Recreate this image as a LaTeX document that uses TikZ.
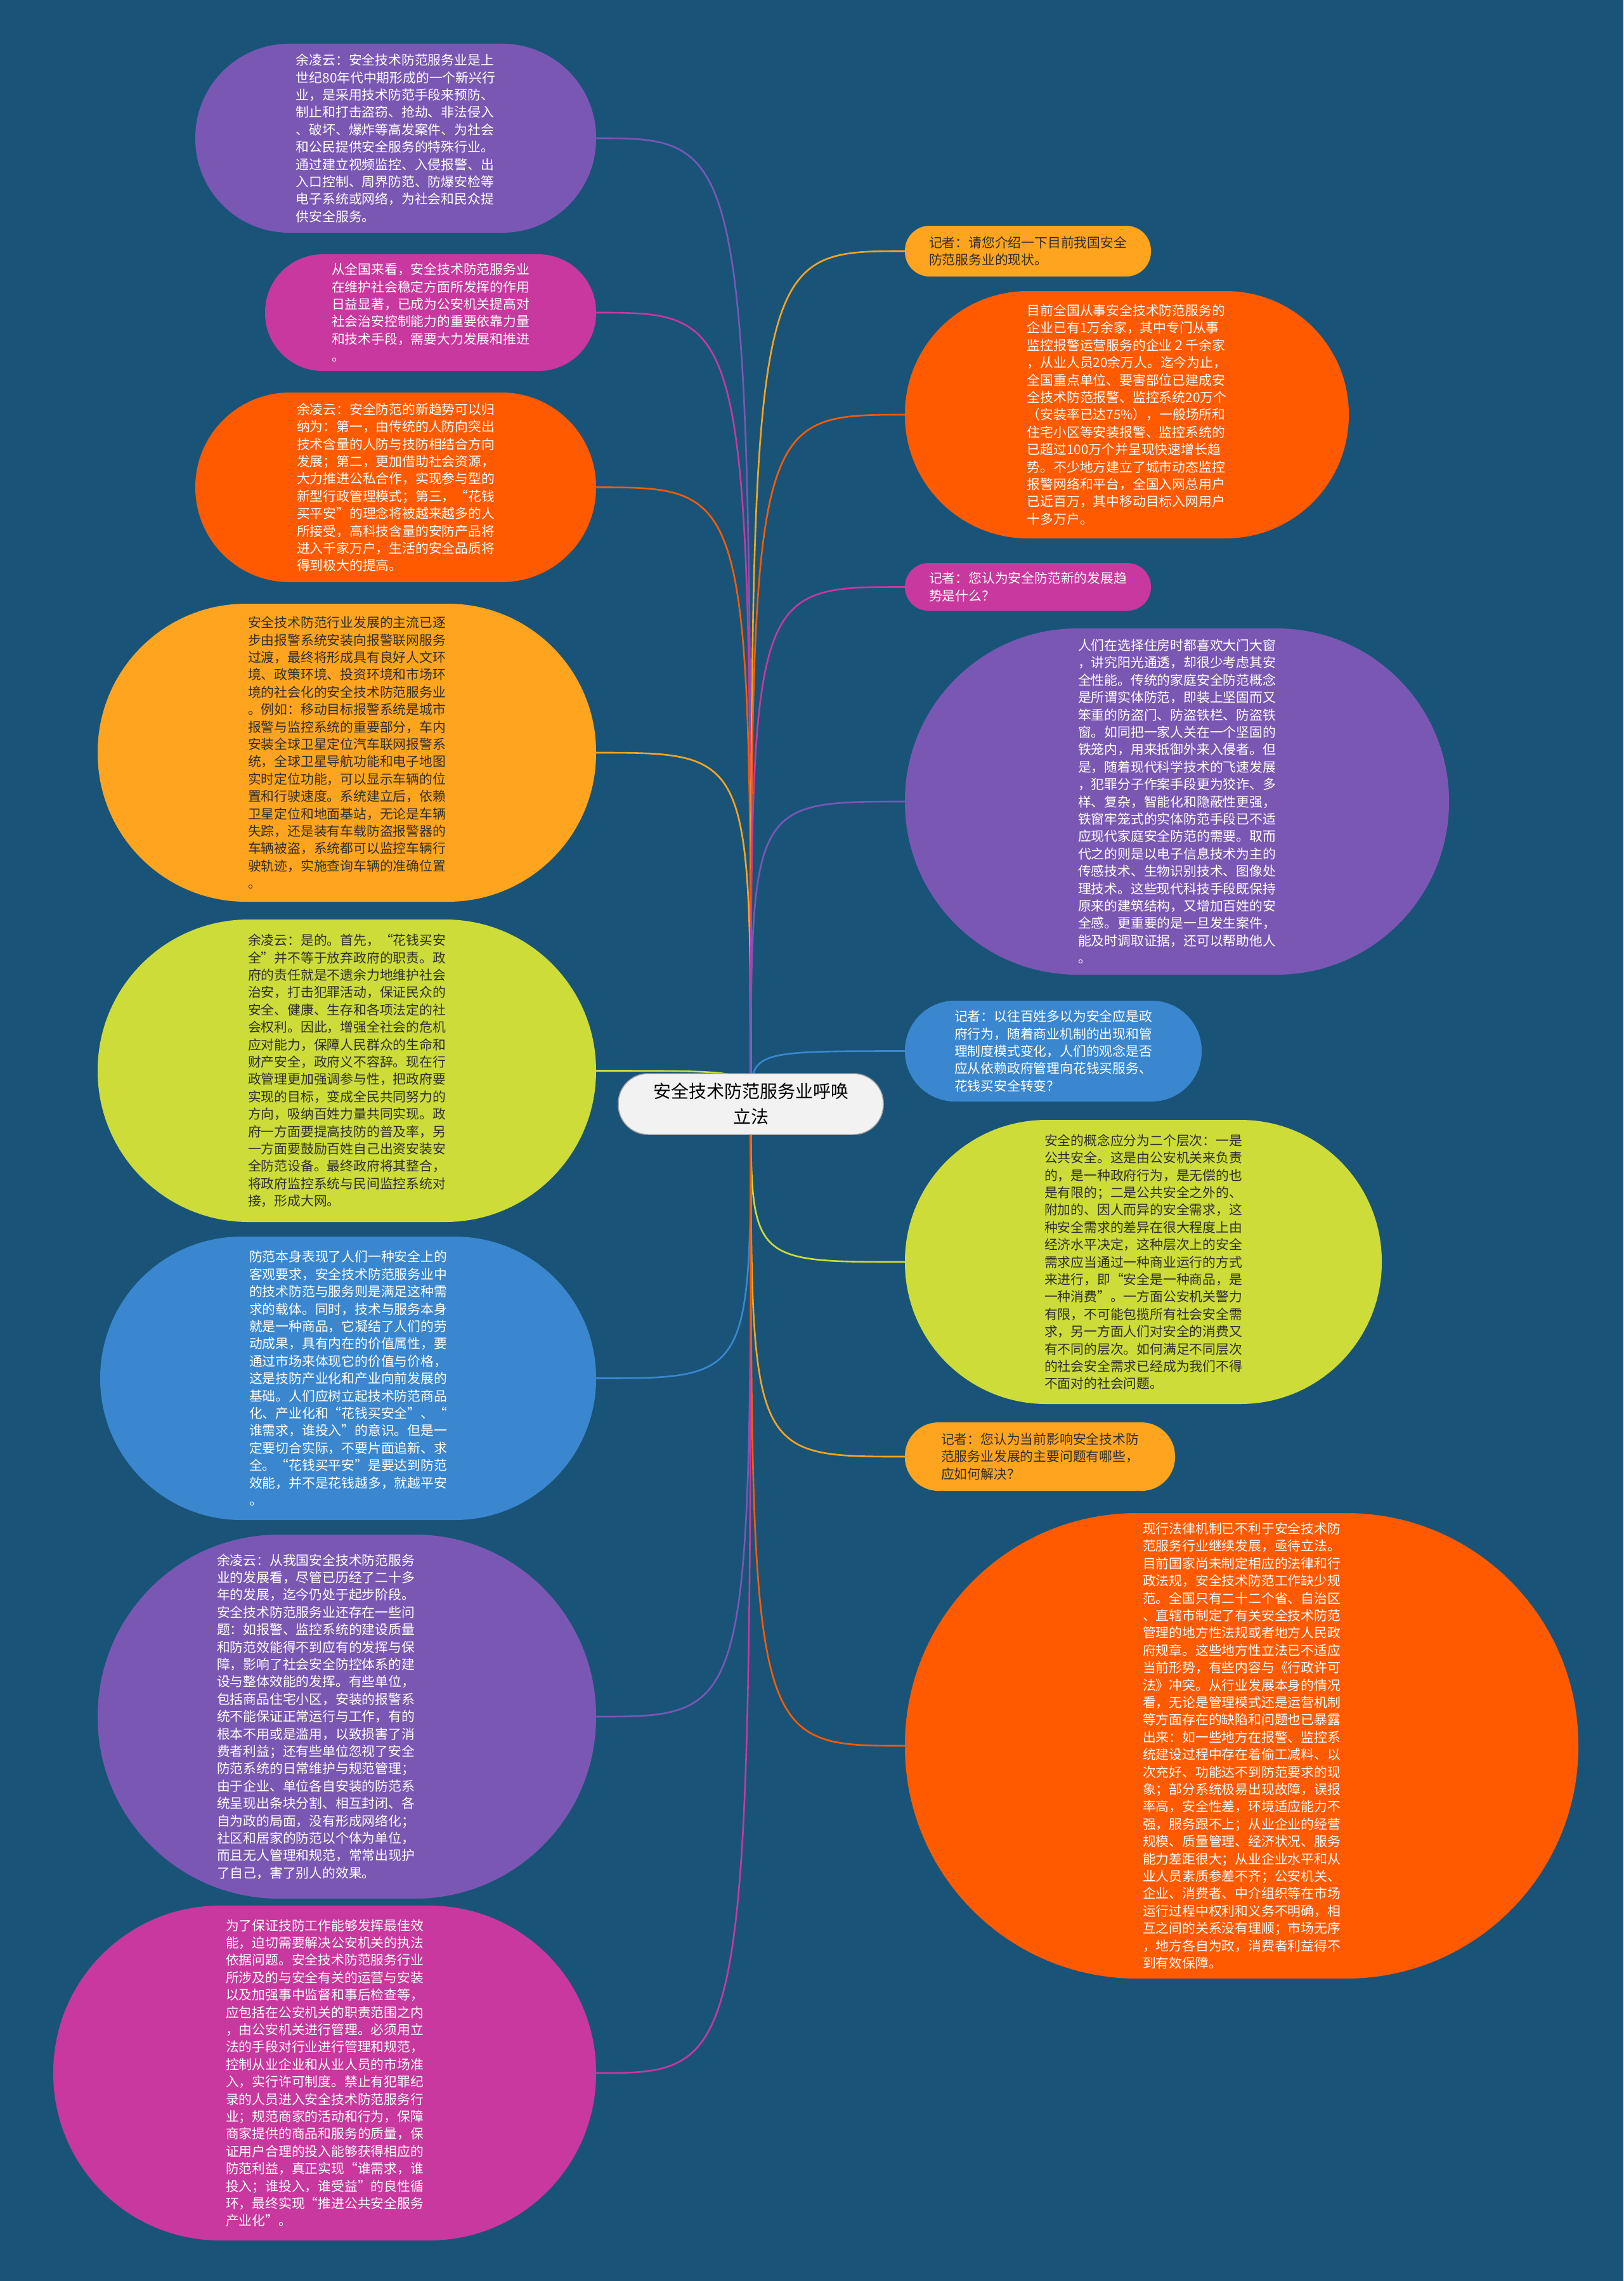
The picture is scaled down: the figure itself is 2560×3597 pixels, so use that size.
\documentclass[tikz,border=0pt]{standalone}
\usepackage{fontspec}
\setmainfont{Noto Sans CJK SC}
\usepackage{tikz}
\usetikzlibrary{calc}

\definecolor{bgblue}{HTML}{195478}
\definecolor{cpurple}{HTML}{7B57B4}
\definecolor{cmagenta}{HTML}{C8389F}
\definecolor{corange}{HTML}{FF5A00}
\definecolor{camber}{HTML}{FFA41E}
\definecolor{clime}{HTML}{CDDC39}
\definecolor{cblue}{HTML}{3A87D0}
\definecolor{rootfill}{HTML}{F2F2F2}
\definecolor{rootline}{HTML}{A6A6A6}
\definecolor{txtdark}{HTML}{2E2E2E}

\begin{document}
\begin{tikzpicture}[
    x=1pt, y=-1pt,
    font=\fontsize{20.8}{27.4}\selectfont,
    bubble/.style={inner sep=0pt, align=left},
    lighttext/.style={text=white},
    darktext/.style={text=txtdark},
    link/.style={line width=2.6pt},
    rootbox/.style={fill=rootfill, draw=rootline, line width=1.5pt, align=center, inner sep=0pt,
        minimum width=418pt, minimum height=96pt, rounded corners=47pt,
        text=black, font=\fontsize{28}{40}\selectfont}
]
\fill[bgblue] (0,0) rectangle (2560,3597);

% left branch
\node[bubble, fill=cpurple, lighttext, minimum width=632pt, minimum height=298pt, rounded corners=148pt] (n1) at (624,218) {余凌云：安全技术防范服务业是上\\世纪80年代中期形成的一个新兴行\\业，是采用技术防范手段来预防、\\制止和打击盗窃、抢劫、非法侵入\\、破坏、爆炸等高发案件、为社会\\和公民提供安全服务的特殊行业。\\通过建立视频监控、入侵报警、出\\入口控制、周界防范、防爆安检等\\电子系统或网络，为社会和民众提\\供安全服务。};
\node[bubble, fill=cmagenta, lighttext, minimum width=522pt, minimum height=184pt, rounded corners=91pt] (n2) at (679,493) {从全国来看，安全技术防范服务业\\在维护社会稳定方面所发挥的作用\\日益显著，已成为公安机关提高对\\社会治安控制能力的重要依靠力量\\和技术手段，需要大力发展和推进\\。};
\node[bubble, fill=corange, lighttext, minimum width=632pt, minimum height=299pt, rounded corners=149pt] (n3) at (624,768.5) {余凌云：安全防范的新趋势可以归\\纳为：第一，由传统的人防向突出\\技术含量的人防与技防相结合方向\\发展；第二，更加借助社会资源，\\大力推进公私合作，实现参与型的\\新型行政管理模式；第三，“花钱\\买平安”的理念将被越来越多的人\\所接受，高科技含量的安防产品将\\进入千家万户，生活的安全品质将\\得到极大的提高。};
\node[bubble, fill=camber, darktext, minimum width=786pt, minimum height=470pt, rounded corners=234pt] (n4) at (547,1187) {安全技术防范行业发展的主流已逐\\步由报警系统安装向报警联网服务\\过渡，最终将形成具有良好人文环\\境、政策环境、投资环境和市场环\\境的社会化的安全技术防范服务业\\。例如：移动目标报警系统是城市\\报警与监控系统的重要部分，车内\\安装全球卫星定位汽车联网报警系\\统，全球卫星导航功能和电子地图\\实时定位功能，可以显示车辆的位\\置和行驶速度。系统建立后，依赖\\卫星定位和地面基站，无论是车辆\\失踪，还是装有车载防盗报警器的\\车辆被盗，系统都可以监控车辆行\\驶轨迹，实施查询车辆的准确位置\\。};
\node[bubble, fill=clime, darktext, minimum width=786pt, minimum height=477pt, rounded corners=238pt] (n5) at (547,1688.5) {余凌云：是的。首先，“花钱买安\\全”并不等于放弃政府的职责。政\\府的责任就是不遗余力地维护社会\\治安，打击犯罪活动，保证民众的\\安全、健康、生存和各项法定的社\\会权利。因此，增强全社会的危机\\应对能力，保障人民群众的生命和\\财产安全，政府义不容辞。现在行\\政管理更加强调参与性，把政府要\\实现的目标，变成全民共同努力的\\方向，吸纳百姓力量共同实现。政\\府一方面要提高技防的普及率，另\\一方面要鼓励百姓自己出资安装安\\全防范设备。最终政府将其整合，\\将政府监控系统与民间监控系统对\\接，形成大网。};
\node[bubble, fill=cblue, lighttext, minimum width=782pt, minimum height=447pt, rounded corners=223pt] (n6) at (549,2173.5) {防范本身表现了人们一种安全上的\\客观要求，安全技术防范服务业中\\的技术防范与服务则是满足这种需\\求的载体。同时，技术与服务本身\\就是一种商品，它凝结了人们的劳\\动成果，具有内在的价值属性，要\\通过市场来体现它的价值与价格，\\这是技防产业化和产业向前发展的\\基础。人们应树立起技术防范商品\\化、产业化和“花钱买安全”、“\\谁需求，谁投入”的意识。但是一\\定要切合实际，不要片面追新、求\\全。“花钱买平安”是要达到防范\\效能，并不是花钱越多，就越平安\\。};
\node[bubble, fill=cpurple, minimum width=786pt, minimum height=574pt, rounded corners=286pt] (n7) at (547,2707) {};
\node[bubble, lighttext] (n7txt) at (498,2707) {余凌云：从我国安全技术防范服务\\业的发展看，尽管已历经了二十多\\年的发展，迄今仍处于起步阶段。\\安全技术防范服务业还存在一些问\\题：如报警、监控系统的建设质量\\和防范效能得不到应有的发挥与保\\障，影响了社会安全防控体系的建\\设与整体效能的发挥。有些单位，\\包括商品住宅小区，安装的报警系\\统不能保证正常运行与工作，有的\\根本不用或是滥用，以致损害了消\\费者利益；还有些单位忽视了安全\\防范系统的日常维护与规范管理；\\由于企业、单位各自安装的防范系\\统呈现出条块分割、相互封闭、各\\自为政的局面，没有形成网络化；\\社区和居家的防范以个体为单位，\\而且无人管理和规范，常常出现护\\了自己，害了别人的效果。};
\node[bubble, fill=cmagenta, lighttext, minimum width=856pt, minimum height=528pt, rounded corners=263pt] (n8) at (512,3269) {为了保证技防工作能够发挥最佳效\\能，迫切需要解决公安机关的执法\\依据问题。安全技术防范服务行业\\所涉及的与安全有关的运营与安装\\以及加强事中监督和事后检查等，\\应包括在公安机关的职责范围之内\\，由公安机关进行管理。必须用立\\法的手段对行业进行管理和规范，\\控制从业企业和从业人员的市场准\\入，实行许可制度。禁止有犯罪纪\\录的人员进入安全技术防范服务行\\业；规范商家的活动和行为，保障\\商家提供的商品和服务的质量，保\\证用户合理的投入能够获得相应的\\防范利益，真正实现“谁需求，谁\\投入；谁投入，谁受益”的良性循\\环，最终实现“推进公共安全服务\\产业化”。};

% right branch
\node[bubble, fill=camber, darktext, minimum width=388pt, minimum height=80pt, rounded corners=39pt] (n9) at (1621,396) {记者：请您介绍一下目前我国安全\\防范服务业的现状。};
\node[bubble, fill=corange, lighttext, minimum width=700pt, minimum height=390pt, rounded corners=194pt] (n10) at (1777,654) {目前全国从事安全技术防范服务的\\企业已有1万余家，其中专门从事\\监控报警运营服务的企业２千余家\\，从业人员20余万人。迄今为止，\\全国重点单位、要害部位已建成安\\全技术防范报警、监控系统20万个\\（安装率已达75\%），一般场所和\\住宅小区等安装报警、监控系统的\\已超过100万个并呈现快速增长趋\\势。不少地方建立了城市动态监控\\报警网络和平台，全国入网总用户\\已近百万，其中移动目标入网用户\\十多万户。};
\node[bubble, fill=cmagenta, lighttext, minimum width=388pt, minimum height=75pt, rounded corners=37pt] (n11) at (1621,925.5) {记者：您认为安全防范新的发展趋\\势是什么？};
\node[bubble, fill=cpurple, lighttext, minimum width=858pt, minimum height=546pt, rounded corners=272pt] (n12) at (1856,1264) {人们在选择住房时都喜欢大门大窗\\，讲究阳光通透，却很少考虑其安\\全性能。传统的家庭安全防范概念\\是所谓实体防范，即装上坚固而又\\笨重的防盗门、防盗铁栏、防盗铁\\窗。如同把一家人关在一个坚固的\\铁笼内，用来抵御外来入侵者。但\\是，随着现代科学技术的飞速发展\\，犯罪分子作案手段更为狡诈、多\\样、复杂，智能化和隐蔽性更强，\\铁窗牢笼式的实体防范手段已不适\\应现代家庭安全防范的需要。取而\\代之的则是以电子信息技术为主的\\传感技术、生物识别技术、图像处\\理技术。这些现代科技手段既保持\\原来的建筑结构，又增加百姓的安\\全感。更重要的是一旦发生案件，\\能及时调取证据，还可以帮助他人\\。};
\node[bubble, fill=cblue, lighttext, minimum width=468pt, minimum height=159pt, rounded corners=79pt] (n13) at (1661,1657.5) {记者：以往百姓多以为安全应是政\\府行为，随着商业机制的出现和管\\理制度模式变化，人们的观念是否\\应从依赖政府管理向花钱买服务、\\花钱买安全转变？};
\node[bubble, fill=clime, darktext, minimum width=752pt, minimum height=448pt, rounded corners=223pt] (n14) at (1803,1990) {安全的概念应分为二个层次：一是\\公共安全。这是由公安机关来负责\\的，是一种政府行为，是无偿的也\\是有限的；二是公共安全之外的、\\附加的、因人而异的安全需求，这\\种安全需求的差异在很大程度上由\\经济水平决定，这种层次上的安全\\需求应当通过一种商业运行的方式\\来进行，即“安全是一种商品，是\\一种消费”。一方面公安机关警力\\有限，不可能包揽所有社会安全需\\求，另一方面人们对安全的消费又\\有不同的层次。如何满足不同层次\\的社会安全需求已经成为我们不得\\不面对的社会问题。};
\node[bubble, fill=camber, darktext, minimum width=426pt, minimum height=108pt, rounded corners=53pt] (n15) at (1640,2297) {记者：您认为当前影响安全技术防\\范服务业发展的主要问题有哪些，\\应如何解决？};
\node[bubble, fill=corange, lighttext, minimum width=1062pt, minimum height=734pt, rounded corners=366pt] (n16) at (1958,2753) {现行法律机制已不利于安全技术防\\范服务行业继续发展，亟待立法。\\目前国家尚未制定相应的法律和行\\政法规，安全技术防范工作缺少规\\范。全国只有二十二个省、自治区\\、直辖市制定了有关安全技术防范\\管理的地方性法规或者地方人民政\\府规章。这些地方性立法已不适应\\当前形势，有些内容与《行政许可\\法》冲突。从行业发展本身的情况\\看，无论是管理模式还是运营机制\\等方面存在的缺陷和问题也已暴露\\出来：如一些地方在报警、监控系\\统建设过程中存在着偷工减料、以\\次充好、功能达不到防范要求的现\\象；部分系统极易出现故障，误报\\率高，安全性差，环境适应能力不\\强，服务跟不上；从业企业的经营\\规模、质量管理、经济状况、服务\\能力差距很大；从业企业水平和从\\业人员素质参差不齐；公安机关、\\企业、消费者、中介组织等在市场\\运行过程中权利和义务不明确，相\\互之间的关系没有理顺；市场无序\\，地方各自为政，消费者利益得不\\到有效保障。};

\coordinate (hub) at (1184,1741);

% connectors
\draw[link, cpurple] (hub) .. controls (hub |- n1.east) .. (n1.east);
\draw[link, cmagenta] (hub) .. controls (hub |- n2.east) .. (n2.east);
\draw[link, corange] (hub) .. controls (hub |- n3.east) .. (n3.east);
\draw[link, camber] (hub) .. controls (hub |- n4.east) .. (n4.east);
\draw[link, clime] (hub) .. controls (hub |- n5.east) .. (n5.east);
\draw[link, cblue] (hub) .. controls (hub |- n6.east) .. (n6.east);
\draw[link, cpurple] (hub) .. controls (hub |- n7.east) .. (n7.east);
\draw[link, cmagenta] (hub) .. controls (hub |- n8.east) .. (n8.east);
\draw[link, camber] (hub) .. controls (hub |- n9.west) .. (n9.west);
\draw[link, corange] (hub) .. controls (hub |- n10.west) .. (n10.west);
\draw[link, cmagenta] (hub) .. controls (hub |- n11.west) .. (n11.west);
\draw[link, cpurple] (hub) .. controls (hub |- n12.west) .. (n12.west);
\draw[link, cblue] (hub) .. controls (hub |- n13.west) .. (n13.west);
\draw[link, clime] (hub) .. controls (hub |- n14.west) .. (n14.west);
\draw[link, camber] (hub) .. controls (hub |- n15.west) .. (n15.west);
\draw[link, corange] (hub) .. controls (hub |- n16.west) .. (n16.west);

\node[rootbox] (root) at (hub) {安全技术防范服务业呼唤\\立法};
\end{tikzpicture}
\end{document}
